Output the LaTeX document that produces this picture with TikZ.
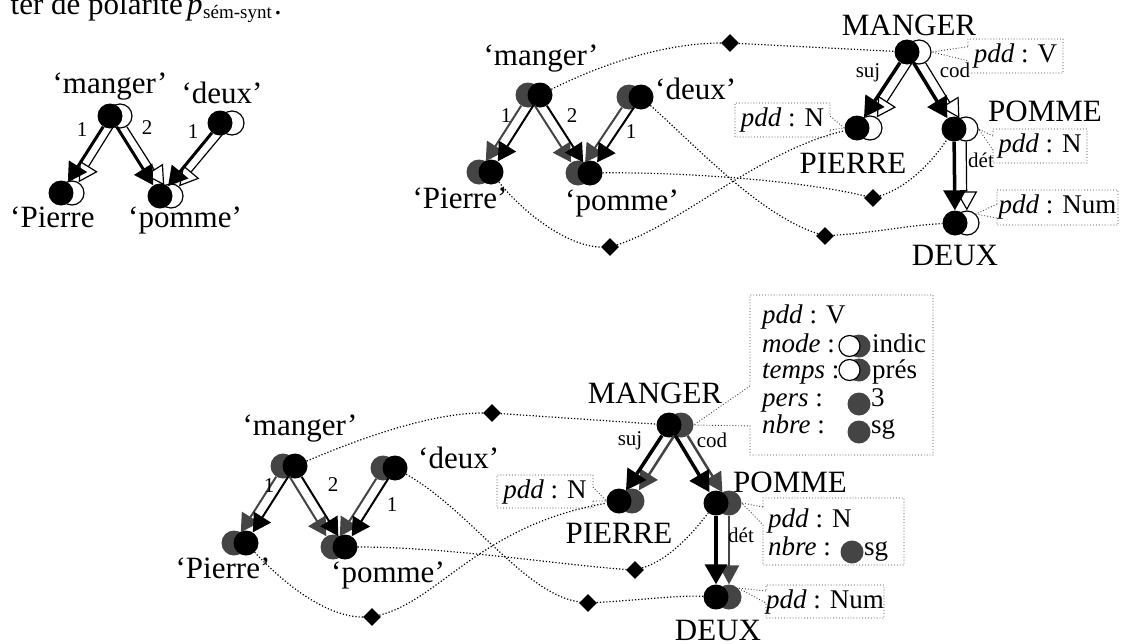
\documentclass[tikz,border=0pt]{standalone}
\usepackage{fontspec}
\setmainfont{Liberation Serif}
\usetikzlibrary{arrows.meta,shapes.geometric,shapes.callouts}
\definecolor{dg}{RGB}{68,68,68}
\begin{document}
\begin{tikzpicture}[x=1pt,y=-1pt,
  lbl/.style={font=\fontsize{31}{31}\selectfont, inner sep=0pt},
  elbl/.style={font=\fontsize{21}{21}\selectfont, inner sep=0pt},
  btxt/.style={font=\fontsize{27}{27}\selectfont, inner sep=0pt},
  bk/.style={circle, fill=black, minimum size=25pt, inner sep=0pt},
  wh/.style={circle, draw=black, fill=white, line width=1.2pt, minimum size=24pt, inner sep=0pt},
  gy/.style={circle, fill=dg, minimum size=25pt, inner sep=0pt},
  gys/.style={circle, fill=dg, minimum size=23pt, inner sep=0pt},
  whs/.style={circle, draw=black, fill=white, line width=1.2pt, minimum size=21pt, inner sep=0pt},
  barr/.style={line width=3pt, -{Triangle[length=19pt,width=21pt]}},
  sarr/.style={line width=2pt, -{Triangle[length=18pt,width=20pt]}},
  tarr/.style={line width=3.5pt, -{Triangle[length=20pt,width=22pt]}},
  warr/.style={line width=1.2pt, -{Triangle[length=19pt,width=21pt,fill=white]}},
  garr/.style={line width=2pt, draw=dg, -{Triangle[length=18pt,width=20pt]}},
  gtarr/.style={line width=2.5pt, draw=dg, -{Triangle[length=19pt,width=20pt]}},
  dia/.style={diamond, fill=black, minimum width=18pt, minimum height=18pt, inner sep=0pt},
  dlink/.style={dotted, line width=1.2pt},
  callbox/.style={rectangle callout, draw=black!75, dotted, line width=0.9pt, font=\fontsize{27}{27}\selectfont, inner sep=0pt, callout pointer width=14pt},
]
\useasboundingbox (0,0) rectangle (1122,643);

% ---------- title ----------
\node[lbl, anchor=base east] (ttl) at (183,14) {ter de polarité};
\node[lbl, anchor=base west] (ttp) at (187,14) {\textit{p}};
\node[font=\fontsize{19}{19}\selectfont, inner sep=0pt, anchor=base west] (tts) at (203,18) {sém-synt};
\node[lbl, anchor=base west] (ttd) at (274,14) {.};

% ---------- diagram 1 ----------
\node[wh] (a1mw) at (120,116) {};
\node[bk] (a1m) at (110,116) {};
\node[wh] (a1dw) at (232,123) {};
\node[bk] (a1d) at (220,123) {};
\node[wh] (a1pw) at (72,193) {};
\node[bk] (a1p) at (61,193) {};
\node[wh] (a1ow) at (171,196) {};
\node[bk] (a1o) at (160,196) {};
\draw[warr] (a1mw) -- (a1pw);
\draw[warr] (a1mw) -- (a1ow);
\draw[warr] (a1dw) -- (a1ow);
\draw[barr] (a1m) -- (a1p);
\draw[barr] (a1m) -- (a1o);
\draw[barr] (a1d) -- (a1o);
\node[lbl, anchor=base] (a1lm) at (110,93) {‘manger’};
\node[lbl, anchor=base] (a1ld) at (222,103) {‘deux’};
\node[lbl, anchor=base west] (a1lp) at (10,227) {‘Pierre};
\node[lbl, anchor=base west] (a1lo) at (128,227) {‘pomme’};
\node[elbl] (a1e1) at (82,130) {1};
\node[elbl] (a1e2) at (147,128) {2};
\node[elbl] (a1e3) at (193,132) {1};

% ---------- diagram 2 : semantic ----------
\node[gy] (b2mg) at (528,95) {};
\node[bk] (b2m) at (540,95) {};
\node[gy] (b2dg) at (629,97) {};
\node[bk] (b2d) at (641,97) {};
\node[gy] (b2pg) at (479,172) {};
\node[bk] (b2p) at (491,172) {};
\node[gy] (b2og) at (578,173) {};
\node[bk] (b2o) at (590,173) {};
\draw[garr] (b2mg) -- (b2pg);
\draw[garr] (b2mg) -- (b2og);
\draw[garr] (b2dg) -- (b2og);
\draw[sarr] (b2m) -- (b2p);
\draw[sarr] (b2m) -- (b2o);
\draw[sarr] (b2d) -- (b2o);
\node[lbl, anchor=base] (b2lm) at (541,65) {‘manger’};
\node[lbl, anchor=base west] (b2ld) at (655,99) {‘deux’};
\node[lbl, anchor=base] (b2lp) at (460,208) {‘Pierre’};
\node[lbl, anchor=base] (b2lo) at (622,210) {‘pomme’};
\node[elbl] (b2e1) at (506,116) {1};
\node[elbl] (b2e2) at (572,116) {2};
\node[elbl] (b2e3) at (631,132) {1};

% ---------- diagram 2 : syntactic ----------
\node[wh] (s2Mw) at (919,52) {};
\node[bk] (s2M) at (907,52) {};
\node[wh] (s2Pw) at (870,128) {};
\node[bk] (s2P) at (857,128) {};
\node[wh] (s2Ow) at (966,129) {};
\node[bk] (s2O) at (954,129) {};
\node[wh] (s2Dw) at (967,223) {};
\node[bk] (s2D) at (955,223) {};
\draw[warr] (s2Mw) -- (s2Pw);
\draw[warr] (s2Mw) -- (s2Ow);
\draw[warr] (s2Ow) -- (s2Dw);
\draw[tarr] (s2M) -- (s2P);
\draw[tarr] (s2M) -- (s2O);
\draw[tarr] (s2O) -- (s2D);
\node[lbl, anchor=base] (s2lM) at (909,35) {MANGER};
\node[lbl, anchor=base] (s2lP) at (853,173) {PIERRE};
\node[lbl, anchor=base] (s2lO) at (1045,121) {POMME};
\node[lbl, anchor=base] (s2lD) at (955,265) {DEUX};
\node[elbl, anchor=base] (s2e1) at (868,77) {suj};
\node[elbl, anchor=base] (s2e2) at (955,77) {cod};
\node[elbl, anchor=base] (s2e3) at (981,167) {dét};

% links diagram 2
\node[dia] (d21) at (730,43) {};
\node[dia] (d22) at (610,247) {};
\node[dia] (d23) at (873,198) {};
\node[dia] (d24) at (825,236) {};
\draw[dlink] (b2m) .. controls (620,55) and (680,43) .. (d21);
\draw[dlink] (d21) -- (s2M);
\draw[dlink] (b2p) .. controls (525,215) and (570,247) .. (d22);
\draw[dlink] (d22) .. controls (680,225) and (760,150) .. (s2P);
\draw[dlink] (b2o) .. controls (680,172) and (800,180) .. (d23);
\draw[dlink] (d23) .. controls (915,185) and (940,150) .. (s2O);
\draw[dlink] (b2d) .. controls (700,150) and (760,215) .. (d24);
\draw[dlink] (d24) .. controls (880,232) and (910,225) .. (s2D);

% callouts diagram 2
\node[callbox, minimum width=95pt, minimum height=34pt, callout absolute pointer={(s2Mw.east)}] (k21) at (1015.5,56) {\textit{pdd} : V};
\node[callbox, minimum width=95pt, minimum height=34pt, callout absolute pointer={(s2P.west)}] (k22) at (782.5,120) {\textit{pdd} : N};
\node[callbox, minimum width=94pt, minimum height=34pt, callout absolute pointer={(s2Ow.east)}] (k23) at (1040,146) {\textit{pdd} : N};
\node[callbox, minimum width=121pt, minimum height=35pt, callout absolute pointer={(s2Dw.north east)}] (k24) at (1057.5,207.5) {\textit{pdd} : Num};

% ---------- diagram 3 : semantic ----------
\node[gy] (c3mg) at (283,466) {};
\node[bk] (c3m) at (295,466) {};
\node[gy] (c3dg) at (383,468) {};
\node[bk] (c3d) at (395,468) {};
\node[gy] (c3pg) at (234,543) {};
\node[bk] (c3p) at (246,543) {};
\node[gy] (c3og) at (333,547) {};
\node[bk] (c3o) at (345,547) {};
\draw[garr] (c3mg) -- (c3pg);
\draw[garr] (c3mg) -- (c3og);
\draw[garr] (c3dg) -- (c3og);
\draw[sarr] (c3m) -- (c3p);
\draw[sarr] (c3m) -- (c3o);
\draw[sarr] (c3d) -- (c3o);
\node[lbl, anchor=base] (c3lm) at (300,435) {‘manger’};
\node[lbl, anchor=base west] (c3ld) at (418,468) {‘deux’};
\node[lbl, anchor=base] (c3lp) at (223,578) {‘Pierre’};
\node[lbl, anchor=base] (c3lo) at (388,582) {‘pomme’};
\node[elbl] (c3e1) at (269,486) {1};
\node[elbl] (c3e2) at (333,485) {2};
\node[elbl] (c3e3) at (392,505) {1};

% ---------- diagram 3 : syntactic ----------
\node[gy] (t3Mg) at (681,425) {};
\node[bk] (t3M) at (669,425) {};
\node[gy] (t3Pg) at (632,501) {};
\node[bk] (t3P) at (619,501) {};
\node[gy] (t3Og) at (729,503) {};
\node[bk] (t3O) at (716,503) {};
\node[gy] (t3Dg) at (729,597) {};
\node[bk] (t3D) at (716,597) {};
\draw[gtarr] (t3Mg) -- (t3Pg);
\draw[gtarr] (t3Mg) -- (t3Og);
\draw[gtarr] (t3Og) -- (t3Dg);
\draw[tarr] (t3M) -- (t3P);
\draw[tarr] (t3M) -- (t3O);
\draw[tarr] (t3O) -- (t3D);
\node[lbl, anchor=base] (t3lM) at (655,403) {MANGER};
\node[lbl, anchor=base] (t3lP) at (619,543) {PIERRE};
\node[lbl, anchor=base west] (t3lO) at (733,492) {POMME};
\node[lbl, anchor=base] (t3lD) at (718,640) {DEUX};
\node[elbl, anchor=base] (t3e1) at (630,445) {suj};
\node[elbl, anchor=base] (t3e2) at (712,447) {cod};
\node[elbl, anchor=base] (t3e3) at (741,542) {dét};

% links diagram 3
\node[dia] (d31) at (492,413) {};
\node[dia] (d32) at (372,617) {};
\node[dia] (d33) at (635,570) {};
\node[dia] (d34) at (588,603) {};
\draw[dlink] (c3m) .. controls (380,430) and (440,413) .. (d31);
\draw[dlink] (d31) -- (t3M);
\draw[dlink] (c3p) .. controls (290,590) and (330,617) .. (d32);
\draw[dlink] (d32) .. controls (440,600) and (480,525) .. (t3P);
\draw[dlink] (c3o) .. controls (450,547) and (560,565) .. (d33);
\draw[dlink] (d33) .. controls (670,560) and (695,530) .. (t3O);
\draw[dlink] (c3d) .. controls (470,510) and (525,595) .. (d34);
\draw[dlink] (d34) .. controls (640,600) and (680,595) .. (t3D);

% callouts diagram 3
\node[callbox, minimum width=96pt, minimum height=33pt, callout absolute pointer={(t3P.west)}] (k31) at (545,491.5) {\textit{pdd} : N};
\node[callbox, minimum width=183pt, minimum height=160pt, callout pointer width=40pt, callout absolute pointer={(t3Mg.east)}] (k32) at (841.5,375) {};
\node[callbox, minimum width=141pt, minimum height=67pt, callout pointer width=18pt, callout absolute pointer={(t3Og.east)}] (k33) at (833.5,531.5) {};
\node[callbox, minimum width=118pt, minimum height=33pt, callout pointer width=12pt, callout absolute pointer={(t3Dg.north east)}] (k34) at (825,601.5) {\textit{pdd} : Num};

% big box content
\node[btxt, anchor=base west] (f1) at (762,323) {\textit{pdd} : V};
\node[btxt, anchor=base west] (f2) at (762,352) {\textit{mode} :};
\node[gys] (f2g) at (859,346) {};
\node[whs] (f2w) at (849.5,346) {};
\node[btxt, anchor=base west] (f2v) at (872,352) {indic};
\node[btxt, anchor=base west] (f3) at (762,378) {\textit{temps} :};
\node[gys] (f3g) at (859,370) {};
\node[whs] (f3w) at (849.5,370) {};
\node[btxt, anchor=base west] (f3v) at (872,378) {prés};
\node[btxt, anchor=base west] (f4) at (762,406) {\textit{pers} :};
\node[gys] (f4g) at (859,404) {};
\node[btxt, anchor=base west] (f4v) at (871,406) {3};
\node[btxt, anchor=base west] (f5) at (762,433) {\textit{nbre} :};
\node[gys] (f5g) at (859,432) {};
\node[btxt, anchor=base west] (f5v) at (871,433) {sg};
% pomme box content
\node[btxt, anchor=base west] (g1) at (768,527) {\textit{pdd} : N};
\node[btxt, anchor=base west] (g2) at (768,555) {\textit{nbre} :};
\node[gys] (g2g) at (852,552) {};
\node[btxt, anchor=base west] (g2v) at (864,555) {sg};
\end{tikzpicture}
\end{document}
